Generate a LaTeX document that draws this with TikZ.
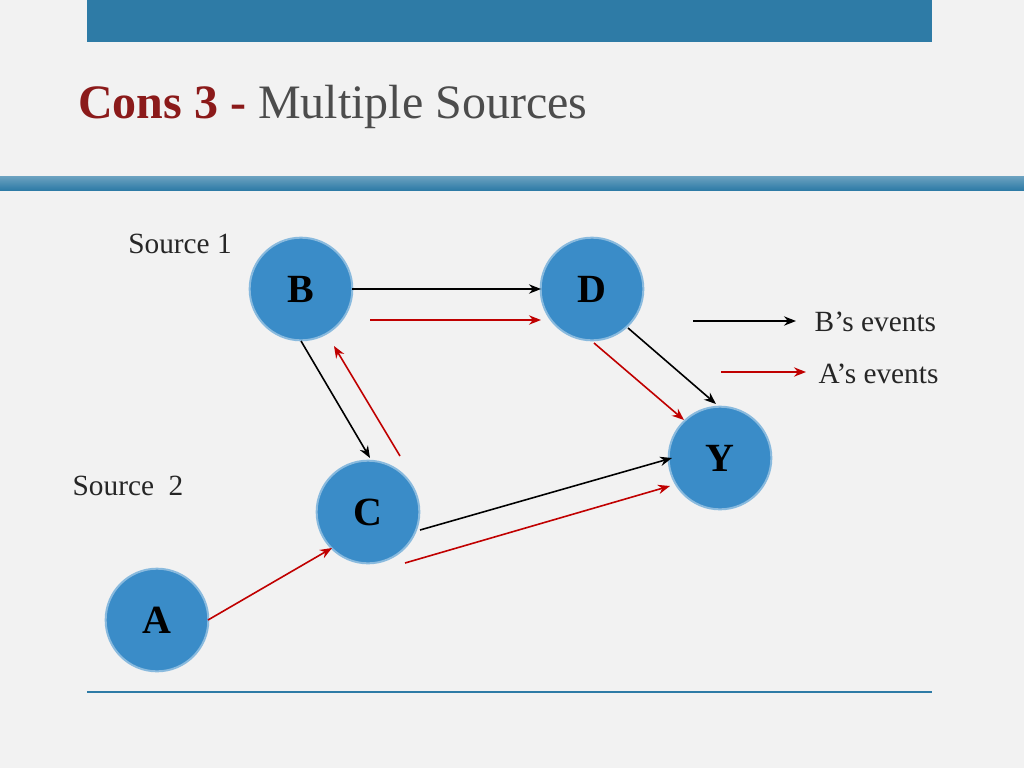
\documentclass[tikz,border=0pt]{standalone}
\usepackage{fontspec}
\setmainfont{Liberation Serif}
\usetikzlibrary{arrows.meta}
\definecolor{bar}{HTML}{2E7BA6}
\definecolor{ballc}{HTML}{3A8CC8}
\definecolor{darkred}{HTML}{8B1A1A}
\definecolor{arr}{HTML}{C00000}
\tikzset{
 bnode/.style={circle,minimum size=77pt,inner sep=0pt,fill=ballc,draw=ballc!60!white,line width=1.5pt,text=black,font=\bfseries\fontsize{30}{30}\selectfont},
 blkarr/.style={-{Stealth[length=9pt,width=7pt]},line width=1.2pt,black},
 redarr/.style={-{Stealth[length=9pt,width=7pt]},line width=1.2pt,arr},
 lab/.style={font=\fontsize{22}{22}\selectfont,text=black!85}
}
\begin{document}
\begin{tikzpicture}[x=0.75pt,y=-0.75pt]
\useasboundingbox (0,0) rectangle (1024,768);
\fill[black!5] (0,0) rectangle (1024,768);
\fill[bar] (87,0) rectangle (932,42);
\node[anchor=base west,inner sep=0pt] (title) at (78,118) {\fontsize{36}{36}\selectfont\textcolor{darkred}{\textbf{Cons 3 -}} \textcolor{black!70}{Multiple Sources}};
\shade[top color=bar!70!white,bottom color=bar] (0,176) rectangle (1024,190);
\draw[bar,line width=2pt] (87,692) -- (932,692);
\node[bnode] (B) at (301,289) {B};
\node[bnode] (D) at (592,289) {D};
\node[bnode] (Y) at (720,458) {Y};
\node[bnode] (C) at (368,512) {C};
\node[bnode] (A) at (157,620) {A};
\node[lab] (s1) at (180,244) {Source 1};
\node[lab] (s2) at (128,486) {Source\ \ 2};
\draw[blkarr] (352,289) -- (541,289);
\draw[redarr] (370,320) -- (541,320);
\draw[blkarr] (301,341) -- (370,458);
\draw[redarr] (400,456) -- (334,346);
\draw[blkarr] (628,328) -- (716,404);
\draw[redarr] (594,343) -- (684,420);
\draw[blkarr] (420,530) -- (672,458);
\draw[redarr] (405,563) -- (670,486);
\draw[redarr] (208,620) -- (332,548);
\coordinate (l1a) at (693,321); \coordinate (l1b) at (796,321);
\coordinate (l2a) at (721,372); \coordinate (l2b) at (806,372);
\draw[blkarr] (l1a) -- (l1b);
\draw[redarr] (l2a) -- (l2b);
\node[lab,anchor=west] (t1) at (810,322) {B’s events};
\node[lab,anchor=west] (t2) at (814,374) {A’s events};
\end{tikzpicture}
\end{document}
